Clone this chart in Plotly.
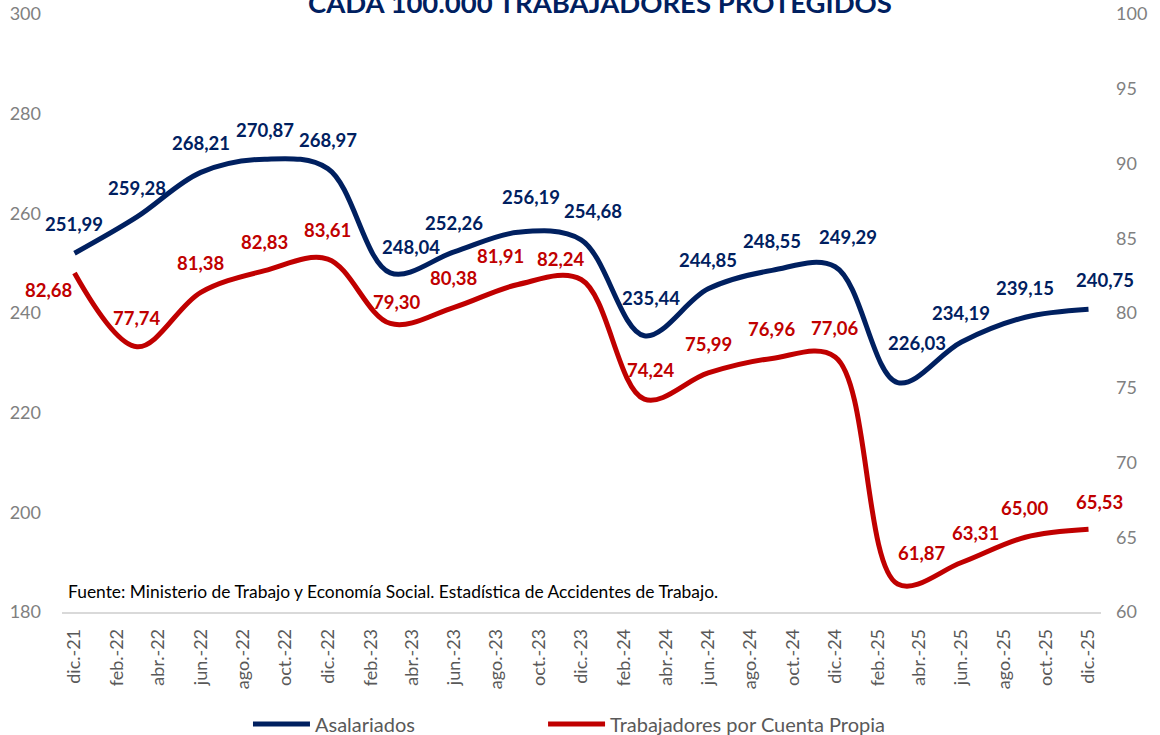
import plotly.graph_objects as go

# ---------------- data ----------------
PERIODS = ["2021-12-01", "2022-03-01", "2022-06-01", "2022-09-01", "2022-12-01",
           "2023-03-01", "2023-06-01", "2023-09-01", "2023-12-01",
           "2024-03-01", "2024-06-01", "2024-09-01", "2024-12-01",
           "2025-03-01", "2025-06-01", "2025-09-01", "2025-12-01"]
ASALARIADOS = [251.99, 259.28, 268.21, 270.87, 268.97,
               248.04, 252.26, 256.19, 254.68,
               235.44, 244.85, 248.55, 249.29,
               226.03, 234.19, 239.15, 240.75]
CUENTA_PROPIA = [82.68, 77.74, 81.38, 82.83, 83.61,
                 79.30, 80.38, 81.91, 82.24,
                 74.24, 75.99, 76.96, 77.06,
                 61.87, 63.31, 65.00, 65.53]
TICK_DATES = ["2021-12-01", "2022-02-01", "2022-04-01", "2022-06-01", "2022-08-01",
              "2022-10-01", "2022-12-01", "2023-02-01", "2023-04-01", "2023-06-01",
              "2023-08-01", "2023-10-01", "2023-12-01", "2024-02-01", "2024-04-01",
              "2024-06-01", "2024-08-01", "2024-10-01", "2024-12-01", "2025-02-01",
              "2025-04-01", "2025-06-01", "2025-08-01", "2025-10-01", "2025-12-01"]
TICK_LABELS = ["dic.-21", "feb.-22", "abr.-22", "jun.-22", "ago.-22", "oct.-22",
               "dic.-22", "feb.-23", "abr.-23", "jun.-23", "ago.-23", "oct.-23",
               "dic.-23", "feb.-24", "abr.-24", "jun.-24", "ago.-24", "oct.-24",
               "dic.-24", "feb.-25", "abr.-25", "jun.-25", "ago.-25", "oct.-25",
               "dic.-25"]
SERIES_NAMES = ["Asalariados", "Trabajadores por Cuenta Propia"]
TITLE = "CADA 100.000 TRABAJADORES PROTEGIDOS"
SOURCE = "Fuente: Ministerio de Trabajo y Economía Social. Estadística de Accidentes de Trabajo."

# ---------------- style ----------------
BLUE = "#002060"
RED = "#C00000"
FONT = "Lato"
GRAY_AX = "#808080"
GRAY_TXT = "#595959"

# label offsets (px) for particular points: index -> (xshift, yshift)
BLUE_OFF = {5: (21, 26), 7: (13, 35), 8: (12, 29), 9: (7, 38), 12: (13, 30),
            13: (19, 40), 16: (16, 29)}
RED_OFF = {0: (-25, -17), 5: (7, 21), 7: (-17, 28), 8: (-20, 21), 9: (7, 29),
           13: (24, 31), 14: (14, 30), 16: (11, 27)}


def fmt(v):
    return f"{v:.2f}".replace(".", ",")


fig = go.Figure()
fig.add_trace(go.Scatter(x=PERIODS, y=ASALARIADOS, name=SERIES_NAMES[0], mode="lines",
                         line=dict(color=BLUE, width=5, shape="spline", smoothing=1.0),
                         yaxis="y", legend="legend"))
fig.add_trace(go.Scatter(x=PERIODS, y=CUENTA_PROPIA, name=SERIES_NAMES[1], mode="lines",
                         line=dict(color=RED, width=5, shape="spline", smoothing=1.0),
                         yaxis="y2", legend="legend2"))

annotations = []
for i, (d, v) in enumerate(zip(PERIODS, ASALARIADOS)):
    xs, ys = BLUE_OFF.get(i, (0, 29))
    annotations.append(dict(x=d, y=v, xref="x", yref="y", text=fmt(v), showarrow=False,
                            xshift=xs, yshift=ys,
                            font=dict(family=FONT, size=18.5, color=BLUE, weight="bold")))
for i, (d, v) in enumerate(zip(PERIODS, CUENTA_PROPIA)):
    xs, ys = RED_OFF.get(i, (0, 29))
    annotations.append(dict(x=d, y=v, xref="x", yref="y2", text=fmt(v), showarrow=False,
                            xshift=xs, yshift=ys,
                            font=dict(family=FONT, size=18.5, color=RED, weight="bold")))

annotations.append(dict(x=0.518, y=1.0193, xref="paper", yref="paper", text=TITLE,
                        showarrow=False, xanchor="center", yanchor="middle",
                        font=dict(family=FONT, size=27.5, color=BLUE, weight="bold")))
annotations.append(dict(x=0.004, y=0.034, xref="paper", yref="paper", text=SOURCE,
                        showarrow=False, xanchor="left", yanchor="middle",
                        font=dict(family=FONT, size=17.4, color="#000000")))

legend_common = dict(orientation="h", xanchor="left", yref="container",
                     y=0.015, yanchor="middle",
                     font=dict(family=FONT, size=20, color=GRAY_TXT),
                     itemwidth=57, bgcolor="rgba(0,0,0,0)")

fig.update_layout(
    width=1160, height=735,
    margin=dict(l=62, r=59, t=14, b=123, autoexpand=False),
    paper_bgcolor="white", plot_bgcolor="white",
    font=dict(family=FONT, size=18, color=GRAY_TXT),
    showlegend=True,
    legend=dict(x=0.179, **legend_common),
    legend2=dict(x=0.463, **legend_common),
    xaxis=dict(type="date", range=["2021-11-13", "2025-12-19"], automargin=False,
               tickmode="array", tickvals=TICK_DATES, ticktext=TICK_LABELS,
               tickangle=-90, showgrid=False, zeroline=False,
               showline=True, linecolor="#D9D9D9", linewidth=1.5, ticks="",
               ticklabelstandoff=8,
               tickfont=dict(family=FONT, size=18, color=GRAY_TXT)),
    yaxis=dict(range=[180, 300], dtick=20, showgrid=False, zeroline=False,
               showline=False, ticks="", automargin=False, ticklabelstandoff=20,
               tickfont=dict(family=FONT, size=18, color=GRAY_AX)),
    yaxis2=dict(range=[60, 100], dtick=5, overlaying="y", side="right",
                showgrid=False, zeroline=False, showline=False, ticks="",
                automargin=False, ticklabelstandoff=14,
                tickfont=dict(family=FONT, size=18, color=GRAY_AX)),
    annotations=annotations,
)

fig.write_html("out.html")
